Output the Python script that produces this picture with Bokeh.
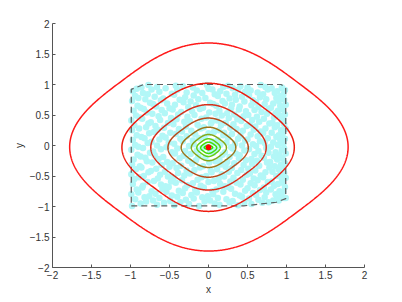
import numpy as np
from bokeh.plotting import figure
from bokeh.embed import file_html
from bokeh.resources import INLINE
from bokeh.models import Range1d, FixedTicker

# ---- scattered sample points (hundredths) ----
pts_x_rows = [
    [-98,-87,-80,-66,-57,-44,-36,-25,-12,-5,8,14,27,38,46,55,69,77,90,97],
    [-94,-82,-71,-63,-49,-40,-29,-19,-8,2,12,23,31,43,52,64,72,83,88,99],
    [-99,-90,-76,-68,-54,-47,-33,-22,-15,-1,6,19,34,40,57,61,74,86,93,96],
    [-92,-85,-73,-59,-51,-38,-30,-17,-6,5,10,25,29,47,50,66,71,80,91,98],
    [-97,-84,-78,-61,-55,-42,-27,-20,-10,0,15,21,36,41,54,59,76,84,89,95],
    [-95,-89,-70,-65,-48,-45,-34,-14,-9,7,13,28,32,44,58,63,70,81,94,99],
    [-99,-83,-77,-62,-52,-39,-31,-24,-3,4,17,20,37,49,53,67,73,87,92,97],
    [-93,-86,-74,-67,-56,-41,-28,-18,-11,3,11,26,30,42,51,60,78,82,90,96],
    [-98,-88,-72,-60,-50,-46,-35,-21,-7,1,16,22,33,45,56,65,75,85,93,98],
    [-96,-81,-79,-64,-53,-37,-26,-16,-4,9,14,24,39,48,55,62,71,79,88,95],
    [-91,-87,-75,-69,-58,-43,-32,-23,-13,6,18,27,35,40,59,68,77,84,91,99],
    [-99,-84,-71,-61,-47,-40,-30,-15,-8,2,10,21,31,46,52,64,74,86,94,97],
    [-94,-90,-78,-66,-54,-44,-25,-19,-2,8,15,29,34,43,57,61,72,80,89,96],
    [-97,-82,-73,-63,-51,-36,-33,-20,-12,5,12,23,38,47,50,66,76,83,92,98],
    [-92,-86,-76,-59,-55,-42,-28,-17,-5,0,19,25,30,41,54,63,70,87,90,95],
    [-98,-89,-70,-65,-49,-38,-34,-22,-10,7,13,20,36,44,58,67,73,81,93,99],
    [-95,-80,-77,-68,-57,-45,-29,-14,-6,3,16,28,32,49,53,60,78,85,88,97],
    [-99,-85,-74,-62,-52,-41,-31,-24,-9,4,11,22,37,42,56,65,71,82,94,96],
    [-93,-88,-72,-64,-48,-39,-27,-18,-3,9,17,26,33,45,51,62,75,84,91,98],
    [-96,-83,-79,-60,-56,-46,-35,-21,-11,1,14,24,39,48,59,68,77,86,89,95],
    [-91,-87,-71,-67,-50,-43,-26,-16,-7,6,10,29,30,40,55,64,72,80,92,99],
    [-98,-81,-75,-61,-53,-37,-32,-23,-13,2,18,21,35,46,57,61,74,83,90,97],
    [-94,-90,-78,-69,-58,-44,-30,-19,-4,8,12,27,34,43,52,66,70,87,93,96],
    [-97,-84,-73,-63,-47,-40,-28,-15,-8,5,15,23,38,47,54,63,76,85,88,98],
    [-92,-86,-77,-66,-55,-42,-33,-20,-2,0,19,25,31,41,50,67,73,81,94,95],
]
pts_y_rows = [
    [-99,-95,-92,-97,-94,-98,-93,-96,-99,-92,-95,-97,-93,-98,-94,-96,-94,-93,-90,-86],
    [-88,-85,-90,-86,-91,-84,-89,-87,-85,-90,-86,-88,-91,-84,-87,-89,-85,-90,-86,-86],
    [-80,-77,-83,-79,-76,-82,-78,-81,-77,-83,-80,-76,-79,-82,-78,-81,-77,-80,-83,-76],
    [-72,-69,-75,-71,-68,-74,-70,-73,-69,-75,-72,-68,-71,-74,-70,-73,-69,-72,-75,-68],
    [-63,-66,-60,-64,-67,-61,-65,-62,-66,-60,-63,-67,-61,-64,-62,-65,-60,-66,-63,-61],
    [-55,-52,-58,-54,-59,-53,-57,-56,-52,-58,-55,-59,-53,-56,-54,-57,-52,-59,-55,-53],
    [-47,-50,-44,-48,-51,-45,-49,-46,-50,-44,-47,-51,-45,-48,-46,-49,-44,-50,-47,-45],
    [-39,-36,-42,-38,-43,-37,-41,-40,-36,-42,-39,-43,-37,-40,-38,-41,-36,-43,-39,-37],
    [-31,-34,-28,-32,-35,-29,-33,-30,-34,-28,-31,-35,-29,-32,-30,-33,-28,-34,-31,-29],
    [-23,-20,-26,-22,-27,-21,-25,-24,-20,-26,-23,-27,-21,-24,-22,-25,-20,-27,-23,-21],
    [-15,-18,-12,-16,-19,-13,-17,-14,-18,-12,-15,-19,-13,-16,-14,-17,-12,-18,-15,-13],
    [-7,-4,-10,-6,-11,-5,-9,-8,-4,-10,-7,-11,-5,-8,-6,-9,-4,-11,-7,-5],
    [1,-2,4,0,-3,3,-1,2,-2,4,1,-3,3,0,2,-1,4,-2,1,3],
    [9,12,6,10,5,11,7,8,12,6,9,5,11,8,10,7,12,5,9,11],
    [17,14,20,16,13,19,15,18,14,20,17,13,19,16,18,15,20,14,17,19],
    [25,28,22,26,21,27,23,24,28,22,25,21,27,24,26,23,28,21,25,27],
    [33,30,36,32,29,35,31,34,30,36,33,29,35,32,34,31,36,30,33,35],
    [41,44,38,42,37,43,39,40,44,38,41,37,43,40,42,39,44,37,41,43],
    [49,46,52,48,45,51,47,50,46,52,49,45,51,48,50,47,52,46,49,51],
    [57,60,54,58,53,59,55,56,60,54,57,53,59,56,58,55,60,53,57,59],
    [65,62,68,64,61,67,63,66,62,68,65,61,67,64,66,63,68,62,65,67],
    [73,76,70,74,69,75,71,72,76,70,73,69,75,72,74,71,76,69,73,75],
    [81,78,84,80,77,83,79,82,78,84,81,77,83,80,82,79,84,78,81,83],
    [89,86,92,88,85,91,87,90,86,92,89,85,91,88,90,87,92,86,89,91],
    [93,95,99,96,94,98,97,95,99,93,96,98,94,97,95,99,96,94,95,93],
]
pts_x = [v / 100 for row in pts_x_rows for v in row]
pts_y = [v / 100 for row in pts_y_rows for v in row]

# ---- dashed hull around the samples ----
hull_x = [-0.99, 0.45, 0.87, 0.99, 0.99, 0.93, -0.83, -0.99, -0.99]
hull_y = [-0.99, -0.99, -0.93, -0.87, 0.95, 1.00, 1.00, 0.92, -0.99]

# ---- contour extents, outermost to innermost ----
contour_left   = [-1.78, -1.11, -0.74, -0.52, -0.35, -0.22, -0.15, -0.10, -0.055]
contour_right  = [ 1.79,  1.10,  0.74,  0.51,  0.35,  0.23,  0.15,  0.105, 0.055]
contour_top    = [ 1.68,  1.02,  0.67,  0.45,  0.30,  0.18,  0.11,  0.055, 0.005]
contour_bottom = [-1.73, -1.08, -0.73, -0.52, -0.36, -0.25, -0.18, -0.13, -0.07]
contour_colors = ["#ff1a1a", "#ee1c10", "#d8301c", "#b84c1c", "#9c7418",
                  "#88a818", "#66cc10", "#44dd08", "#22ee00"]

center_x = [0.0]
center_y = [-0.03]

ticks = [-2, -1.5, -1, -0.5, 0, 0.5, 1, 1.5, 2]
tick_labels = ["\u22122", "\u22121.5", "\u22121", "\u22120.5", "0", "0.5", "1", "1.5", "2"]

p = figure(frame_width=312, frame_height=244, output_backend="svg", toolbar_location=None,
           x_range=Range1d(-2, 2), y_range=Range1d(-2, 2),
           min_border_left=52, min_border_right=30, min_border_top=23, min_border_bottom=27)
p.outline_line_color = None
p.xgrid.visible = False
p.ygrid.visible = False
p.background_fill_color = "white"
p.border_fill_color = "white"

p.scatter(pts_x, pts_y, size=6.5, fill_color="#b2f7f7", line_color=None)
p.line(hull_x, hull_y, line_color="#606060", line_width=1.2, line_dash="6 4")

# rounded-diamond outline: a superellipse (exponent m) turned by 45 degrees
shape_m = 3.0
t = np.linspace(0, 2 * np.pi, 800)
c, s = np.cos(t), np.sin(t)
k = 2.0 ** (1.0 / shape_m)
u = k * np.sign(c) * np.abs(c) ** (2.0 / shape_m)
v = k * np.sign(s) * np.abs(s) ** (2.0 / shape_m)
X = (u + v) / 2
Y = (u - v) / 2
for l, r, tp, bt, col in zip(contour_left, contour_right, contour_top, contour_bottom, contour_colors):
    yc = (tp + bt) / 2
    b = (tp - bt) / 2
    xs = X * np.where(X >= 0, r, -l)
    ys = yc + b * Y
    p.line(xs, ys, line_color=col, line_width=1.5)

p.scatter(center_x, center_y, size=5, fill_color="#ff0000", line_color="#ff0000")

for ax in (p.xaxis[0], p.yaxis[0]):
    ax.ticker = FixedTicker(ticks=ticks)
    ax.major_label_overrides = {tk: lb for tk, lb in zip(ticks, tick_labels)}
    ax.minor_tick_line_color = None
    ax.major_tick_in = 3
    ax.major_tick_out = 0
    ax.axis_line_color = "#555555"
    ax.major_tick_line_color = "#555555"
    ax.major_label_text_font = "Liberation Sans"
    ax.major_label_text_font_size = "10px"
    ax.major_label_text_color = "#333333"
    ax.major_label_standoff = 3
    ax.axis_label_text_font = "Liberation Sans"
    ax.axis_label_text_font_size = "10px"
    ax.axis_label_text_font_style = "normal"
    ax.axis_label_text_color = "#333333"
    ax.axis_label_standoff = 2

p.xaxis.axis_label = "x"
p.yaxis.axis_label = "y"

open("out.html", "w").write(file_html(p, INLINE))
